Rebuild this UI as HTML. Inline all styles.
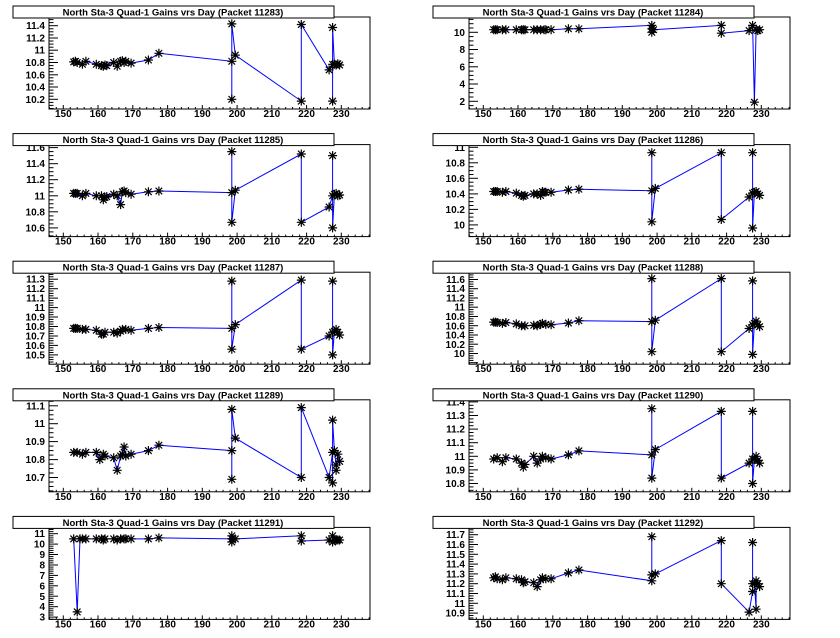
<!DOCTYPE html>
<html><head><meta charset="utf-8"><style>
html,body{margin:0;padding:0;background:#fff;}
svg{display:block;font-family:"Liberation Sans",Arial,sans-serif;}
</style></head><body>
<svg id="s" width="840" height="638" xmlns="http://www.w3.org/2000/svg"></svg>
<script>
const P=[
{id:11283,a:[11.4,25.7],b:[10.2,99.3],t0:10.2,t1:11.4,st:0.2,mn:4,dec:1,
d:[[153,10.81],[153.5,10.82],[154,10.8],[155.5,10.77],[156.5,10.82],[159.5,10.77],[161,10.75],[161.5,10.74],[162,10.76],[162.5,10.75],[164.5,10.8],[165.5,10.74],[166.5,10.82],[167,10.83],[167.5,10.8],[168,10.82],[169.5,10.79],[174.5,10.84],[177.5,10.95],[198.5,10.82],[198.5,10.2],[198.5,11.43],[199.5,10.92],[218.5,10.17],[218.5,11.42],[226.5,10.68],[227.5,10.77],[227.5,10.17],[227.5,11.37],[228,10.77],[228.5,10.76],[229,10.78],[229.5,10.76]]},
{id:11284,a:[10,32.3],b:[2,101.3],t0:2,t1:10,st:2,mn:4,dec:0,
d:[[153,10.3],[153.5,10.3],[154,10.3],[155.5,10.3],[156.5,10.3],[159.5,10.3],[161,10.3],[161.5,10.3],[162,10.3],[164.5,10.3],[165.5,10.3],[166.5,10.3],[167.5,10.3],[168,10.3],[169.5,10.3],[174.5,10.4],[177.5,10.4],[198.5,10.8],[198.5,10.0],[198.5,10.4],[199,10.3],[218.5,10.8],[218.5,9.9],[226.5,10.2],[227.5,10.8],[228,1.9],[228.5,10.3],[229,10.2],[229.5,10.3]]},
{id:11285,a:[11.6,20],b:[10.6,100.3],t0:10.6,t1:11.6,st:0.2,mn:4,dec:1,
d:[[153,11.03],[153.5,11.03],[154,11.03],[155.5,11.0],[156.5,11.03],[159.5,11.0],[161,11.0],[161.5,10.95],[162,10.98],[162.5,10.99],[164.5,11.02],[165.5,11.0],[166.5,10.89],[167,11.05],[167.5,11.06],[168,11.04],[169.5,11.02],[174.5,11.05],[177.5,11.06],[198.5,11.04],[198.5,11.55],[198.5,10.67],[199.5,11.07],[218.5,11.52],[218.5,10.67],[226.5,10.86],[227.5,11.0],[227.5,11.5],[227.5,10.6],[228,11.02],[228.5,11.03],[229,11.0],[229.5,11.01]]},
{id:11286,a:[11,19.7],b:[10,97.3],t0:10,t1:11,st:0.2,mn:4,dec:1,
d:[[153,10.43],[153.5,10.43],[154,10.43],[155.5,10.42],[156.5,10.43],[159.5,10.41],[161,10.38],[161.5,10.37],[162,10.38],[164.5,10.4],[165.5,10.4],[166.5,10.38],[167,10.43],[167.5,10.42],[168,10.42],[169.5,10.42],[174.5,10.45],[177.5,10.46],[198.5,10.44],[198.5,10.93],[198.5,10.04],[199.5,10.47],[218.5,10.93],[218.5,10.07],[226.5,10.36],[227.5,10.41],[227.5,10.93],[227.5,9.96],[228,10.42],[228.5,10.43],[229,10.4],[229.5,10.38]]},
{id:11287,a:[11.3,24],b:[10.5,99.7],t0:10.5,t1:11.3,st:0.1,mn:4,dec:1,
d:[[153,10.78],[153.5,10.78],[154,10.78],[155.5,10.77],[156.5,10.77],[159.5,10.76],[161,10.72],[161.5,10.72],[162,10.74],[164.5,10.74],[165.5,10.73],[166.5,10.75],[167,10.77],[168,10.77],[169.5,10.76],[174.5,10.78],[177.5,10.79],[198.5,10.78],[198.5,11.28],[198.5,10.56],[199.5,10.82],[218.5,11.29],[218.5,10.56],[226.5,10.7],[227.5,10.74],[227.5,11.28],[227.5,10.5],[228,10.75],[228.5,10.77],[229,10.74],[229.5,10.71]]},
{id:11288,a:[11.6,24.3],b:[10,98.3],t0:10,t1:11.6,st:0.2,mn:4,dec:1,
d:[[153,10.68],[153.5,10.68],[154,10.67],[155.5,10.65],[156.5,10.67],[159.5,10.64],[161,10.6],[162,10.6],[164.5,10.61],[165.5,10.6],[166.5,10.63],[167,10.65],[168,10.63],[169.5,10.62],[174.5,10.66],[177.5,10.71],[198.5,10.69],[198.5,11.62],[198.5,10.04],[199.5,10.72],[218.5,11.62],[218.5,10.04],[226.5,10.54],[227.5,10.62],[227.5,11.57],[227.5,9.98],[228,10.65],[228.5,10.7],[229,10.62],[229.5,10.58]]},
{id:11289,a:[11.1,23],b:[10.7,94.7],t0:10.7,t1:11.1,st:0.1,mn:4,dec:1,
d:[[153,10.84],[154,10.84],[155.5,10.83],[156.5,10.84],[159.5,10.84],[160.5,10.8],[161.5,10.83],[162,10.82],[164.5,10.81],[165.5,10.74],[166.5,10.82],[167,10.83],[167.5,10.87],[168,10.82],[169.5,10.83],[174.5,10.85],[177.5,10.88],[198.5,10.85],[198.5,10.69],[198.5,11.08],[199.5,10.92],[218.5,10.7],[218.5,11.09],[226.5,10.7],[227.5,10.84],[227.5,10.67],[227.5,11.02],[228,10.85],[228.5,10.77],[228.5,10.74],[229,10.83],[229.5,10.79]]},
{id:11290,a:[11.3,32.7],b:[10.8,100.7],t0:10.8,t1:11.4,st:0.1,mn:4,dec:1,
d:[[153,10.98],[154,10.99],[155.5,10.96],[156.5,10.99],[159.5,10.98],[161,10.95],[161.5,10.92],[162,10.94],[164.5,11.0],[165.5,10.95],[166.5,10.98],[167,11.0],[168,10.99],[169.5,10.98],[174.5,11.01],[177.5,11.04],[198.5,11.01],[198.5,11.35],[198.5,10.84],[199.5,11.05],[218.5,11.33],[218.5,10.84],[226.5,10.95],[227.5,10.98],[227.5,11.33],[227.5,10.8],[228,10.98],[228.5,11.0],[229,10.97],[229.5,10.95]]},
{id:11291,a:[11,23.3],b:[3,106.7],t0:3,t1:11,st:1,mn:5,dec:0,
d:[[153,10.5],[154,3.5],[154.8,10.5],[155.5,10.5],[156.5,10.5],[159.5,10.5],[161,10.5],[161.5,10.4],[162,10.5],[164.5,10.5],[165.5,10.4],[166.5,10.5],[167.5,10.5],[168,10.5],[169.5,10.5],[174.5,10.5],[177.5,10.6],[198.5,10.5],[198.5,10.8],[198.5,10.2],[199.5,10.5],[218.5,10.8],[218.5,10.3],[226.5,10.4],[227.5,10.8],[227.5,10.2],[228,10.4],[228.5,10.4],[229,10.4],[229.5,10.4]]},
{id:11292,a:[11.7,24.3],b:[10.9,102.7],t0:10.9,t1:11.7,st:0.1,mn:4,dec:1,
d:[[153,11.26],[153.5,11.27],[154,11.25],[155.5,11.24],[156.5,11.26],[159.5,11.25],[161,11.24],[161.5,11.21],[162,11.22],[164.5,11.21],[165.5,11.17],[166.5,11.24],[167,11.26],[168,11.25],[169.5,11.25],[174.5,11.31],[177.5,11.34],[198.5,11.23],[198.5,11.68],[198.5,11.29],[199.5,11.3],[218.5,11.64],[218.5,11.2],[226.5,10.91],[227.5,11.12],[227.5,11.62],[227.5,11.2],[228,11.2],[228.5,10.94],[228.5,11.23],[229,11.2],[229.5,11.17]]}
];
let h='';
const X0=49,X1=370,Y0=17,Y1=109;
const fx=d=>63.3+(d-150)*3.475;
P.forEach((p,i)=>{
 const ox=(i%2)*420, oy=Math.floor(i/2)*127.6;
 const k=(p.b[1]-p.a[1])/(p.b[0]-p.a[0]);
 const fy=v=>p.a[1]+(v-p.a[0])*k;
 let g=`<g transform="translate(${ox},${oy})">`;
 const n=Math.round((p.t1-p.t0)/p.st);
 for(let j=0;j<=n;j++){
  const v=p.t0+j*p.st, y=fy(v);
  if(y<Y0-6||y>Y1+1)continue;
  let lbl=(Math.abs(v-Math.round(v))<1e-6)?String(Math.round(v)):v.toFixed(p.dec);
  g+=`<text x="45" y="${(y+3.5).toFixed(1)}" font-size="10" font-weight="bold" text-anchor="end">${lbl}</text>`;
 }
 const ms=p.st/p.mn;
 for(let v=p.t0-p.st;v<=p.t1+2*p.st;v+=ms){
  const y=fy(v); if(y<Y0||y>Y1)continue;
  const maj=Math.abs((v-p.t0)/p.st-Math.round((v-p.t0)/p.st))<1e-4;
  g+=`<line x1="${X0}" x2="${X0+(maj?9:4.5)}" y1="${y.toFixed(1)}" y2="${y.toFixed(1)}" stroke="#000" stroke-width="1"/>`;
 }
 for(let d=146;d<=238;d+=2){
  const x=fx(d); if(x<X0||x>X1)continue;
  const maj=d%10==0;
  g+=`<line x1="${x.toFixed(1)}" x2="${x.toFixed(1)}" y1="${Y1}" y2="${Y1-(maj?4:2)}" stroke="#000"/>`;
  if(maj&&d>=150&&d<=230) g+=`<text x="${x.toFixed(1)}" y="117" font-size="10" font-weight="bold" text-anchor="middle">${d}</text>`;
 }
 g+=`<rect x="${X0}" y="${Y0}" width="${X1-X0}" height="${Y1-Y0}" fill="none" stroke="#000" stroke-width="1"/>`;
 const pts=p.d.map(q=>[fx(q[0]),fy(q[1])]);
 g+=`<polyline points="${pts.map(q=>q[0].toFixed(1)+','+q[1].toFixed(1)).join(' ')}" fill="none" stroke="#0000ff" stroke-width="1"/>`;
 const r=4.5,r2=3.3;
 pts.forEach(q=>{const[x,y]=q;
  g+=`<path d="M${(x-r).toFixed(1)} ${y.toFixed(1)}h${2*r}M${x.toFixed(1)} ${(y-r).toFixed(1)}v${2*r}M${(x-r2).toFixed(1)} ${(y-r2).toFixed(1)}l${2*r2} ${2*r2}M${(x-r2).toFixed(1)} ${(y+r2).toFixed(1)}l${2*r2} ${-2*r2}" stroke="#000" stroke-width="1.2" fill="none"/>`;
 });
 g+=`<rect x="13" y="6" width="321" height="12" fill="#fff" stroke="#000" stroke-width="1"/>`;
 g+=`<text x="173" y="15.5" font-size="9.5" font-weight="bold" text-anchor="middle">North Sta-3 Quad-1 Gains vrs Day (Packet ${p.id})</text>`;
 g+='</g>';
 h+=g;
});
document.getElementById('s').innerHTML=h;
</script>
</body></html>
